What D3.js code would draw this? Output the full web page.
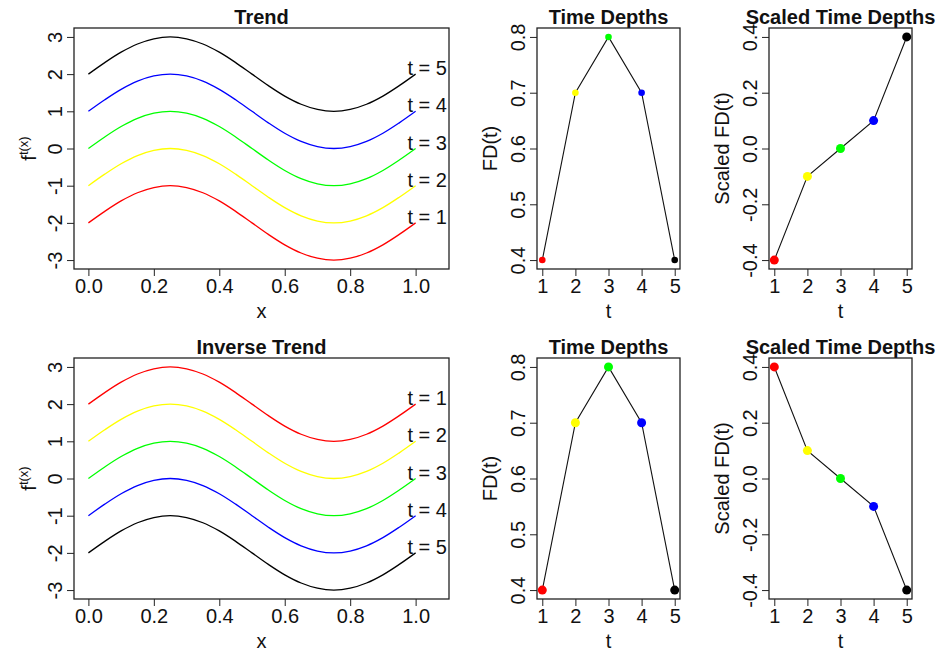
<!DOCTYPE html>
<html>
<head>
<meta charset="utf-8">
<script src="https://cdn.jsdelivr.net/npm/d3@7"></script>
<style>
body { margin: 0; background: #fff; }
text { font-family: "Liberation Sans", Arial, sans-serif; fill: #111; }
</style>
</head>
<body>
<div id="chart-area"></div>
<script>

// sampled curves (x from 0 to 1)
var xGrid = [0, 0.05, 0.1, 0.15, 0.2, 0.25, 0.3, 0.35, 0.4, 0.45, 0.5,
	0.55, 0.6, 0.65, 0.7, 0.75, 0.8, 0.85, 0.9, 0.95, 1];

var curveMinus2 = [-2, -1.69, -1.41, -1.19, -1.05, -1, -1.05, -1.19, -1.41, -1.69, -2,
	-2.31, -2.59, -2.81, -2.95, -3, -2.95, -2.81, -2.59, -2.31, -2];
var curveMinus1 = [-1, -0.69, -0.41, -0.19, -0.05, 0, -0.05, -0.19, -0.41, -0.69, -1,
	-1.31, -1.59, -1.81, -1.95, -2, -1.95, -1.81, -1.59, -1.31, -1];
var curveZero = [0, 0.31, 0.59, 0.81, 0.95, 1, 0.95, 0.81, 0.59, 0.31, 0,
	-0.31, -0.59, -0.81, -0.95, -1, -0.95, -0.81, -0.59, -0.31, 0];
var curvePlus1 = [1, 1.31, 1.59, 1.81, 1.95, 2, 1.95, 1.81, 1.59, 1.31, 1,
	0.69, 0.41, 0.19, 0.05, 0, 0.05, 0.19, 0.41, 0.69, 1];
var curvePlus2 = [2, 2.31, 2.59, 2.81, 2.95, 3, 2.95, 2.81, 2.59, 2.31, 2,
	1.69, 1.41, 1.19, 1.05, 1, 1.05, 1.19, 1.41, 1.69, 2];

var tLabels = ["t = 1", "t = 2", "t = 3", "t = 4", "t = 5"];
var tValues = [1, 2, 3, 4, 5];
var tColors = ["#ff0000", "#ffff00", "#00ff00", "#0000ff", "#000000"];

var trendSeries = [curveMinus2, curveMinus1, curveZero, curvePlus1, curvePlus2];
var inverseSeries = [curvePlus2, curvePlus1, curveZero, curveMinus1, curveMinus2];

var fdTrend = [0.4, 0.7, 0.8, 0.7, 0.4];
var scaledTrend = [-0.4, -0.1, 0.0, 0.1, 0.4];
var fdInverse = [0.4, 0.7, 0.8, 0.7, 0.4];
var scaledInverse = [0.4, 0.1, 0.0, -0.1, -0.4];

var xTicks = [0, 0.2, 0.4, 0.6, 0.8, 1];
var curveYTicks = [-3, -2, -1, 0, 1, 2, 3];
var fdTicks = [0.4, 0.5, 0.6, 0.7, 0.8];
var scaledTicks = [-0.4, -0.2, 0.0, 0.2, 0.4];

var width = 940,
	height = 654;

var svg = d3.select("#chart-area").append("svg")
	.attr("width", width)
	.attr("height", height);

svg.append("rect").attr("width", width).attr("height", height).attr("fill", "#fff");

// R prints a plain hyphen for negatives
function rFormat(spec) {
	var f = d3.format(spec);
	return function(d) { return f(d).replace("\u2212", "-"); };
}

var rowTop = [28, 358];
var boxHeight = 241;
var curveBox = {left: 74, right: 449};
var fdBox = {left: 537, right: 680};
var scaledBox = {left: 769, right: 912};

drawCurves(rowTop[0], trendSeries, "Trend");
drawCurves(rowTop[1], inverseSeries, "Inverse Trend");
drawDepths(fdBox, rowTop[0], fdTrend, [0.384, 0.816], fdTicks, "FD(t)", "Time Depths", 3.3);
drawDepths(scaledBox, rowTop[0], scaledTrend, [-0.432, 0.432], scaledTicks, "Scaled FD(t)", "Scaled Time Depths", 4.5);
drawDepths(fdBox, rowTop[1], fdInverse, [0.384, 0.816], fdTicks, "FD(t)", "Time Depths", 4.5);
drawDepths(scaledBox, rowTop[1], scaledInverse, [-0.432, 0.432], scaledTicks, "Scaled FD(t)", "Scaled Time Depths", 4.5);

function frame(box, top, title, xTitle) {
	var g = svg.append("g");
	var bottom = top + boxHeight;
	// title
	g.append("text")
		.attr("x", (box.left + box.right) / 2)
		.attr("y", top - 4)
		.attr("text-anchor", "middle")
		.attr("font-size", 20)
		.attr("font-weight", "bold")
		.text(title);
	// x title
	g.append("text")
		.attr("x", (box.left + box.right) / 2)
		.attr("y", bottom + 49)
		.attr("text-anchor", "middle")
		.attr("font-size", 20)
		.text(xTitle);
	return g;
}

function addAxes(g, box, top, x, y, xt, yt, xFmt, yFmt) {
	var bottom = top + boxHeight;

	var xAxis = d3.axisBottom(x).tickValues(xt).tickSize(7).tickPadding(2.5).tickFormat(xFmt);
	var gx = g.append("g")
		.attr("transform", "translate(0," + bottom + ")")
		.call(xAxis);
	gx.select(".domain").remove();
	gx.selectAll(".tick line").attr("stroke", "#222");
	gx.selectAll(".tick text")
		.attr("font-size", 20)
		.attr("font-family", null)
		.attr("fill", "#111");

	var yAxis = d3.axisLeft(y).tickValues(yt).tickSize(7).tickFormat(yFmt);
	var gy = g.append("g")
		.attr("transform", "translate(" + box.left + ",0)")
		.call(yAxis);
	gy.select(".domain").remove();
	gy.selectAll(".tick line").attr("stroke", "#222");
	gy.selectAll(".tick text")
		.attr("font-size", 20)
		.attr("font-family", null)
		.attr("fill", "#111")
		.attr("transform", "rotate(-90)")
		.attr("x", 0)
		.attr("y", -12)
		.attr("dy", null)
		.attr("text-anchor", "middle");

	g.append("rect")
		.attr("x", box.left)
		.attr("y", top)
		.attr("width", box.right - box.left)
		.attr("height", boxHeight)
		.attr("fill", "none")
		.attr("stroke", "#222")
		.attr("stroke-width", 1.3);
}

function drawCurves(top, series, title) {
	var box = curveBox;
	var bottom = top + boxHeight;
	var g = frame(box, top, title, "x");

	var x = d3.scaleLinear().domain([-0.044, 1.102]).range([box.left, box.right]);
	var y = d3.scaleLinear().domain([-3.24, 3.24]).range([bottom, top]);

	addAxes(g, box, top, x, y, xTicks, curveYTicks, rFormat(".1f"), rFormat("d"));

	// y title f^t(x)
	var yt = g.append("text")
		.attr("transform", "translate(" + (box.left - 38) + "," + ((top + bottom) / 2) + ") rotate(-90)")
		.attr("text-anchor", "middle");
	yt.append("tspan").attr("font-size", 20).text("f");
	yt.append("tspan").attr("font-size", 13).attr("dy", -8).text("t(x)");

	var line = d3.line()
		.x(function(d, i) { return x(xGrid[i]); })
		.y(function(d) { return y(d); })
		.curve(d3.curveCatmullRom);

	series.forEach(function(vals, k) {
		g.append("path")
			.datum(vals)
			.attr("fill", "none")
			.attr("stroke", tColors[k])
			.attr("stroke-width", 1.3)
			.attr("d", line);
		g.append("text")
			.attr("x", x(0.975))
			.attr("y", y(vals[vals.length - 1]) + 1)
			.attr("font-size", 20)
			.text(tLabels[k]);
	});
}

function drawDepths(box, top, values, yDomain, ticks, yTitle, title, r) {
	var bottom = top + boxHeight;
	var g = frame(box, top, title, "t");

	var x = d3.scaleLinear().domain([0.84, 5.16]).range([box.left, box.right]);
	var y = d3.scaleLinear().domain(yDomain).range([bottom, top]);

	addAxes(g, box, top, x, y, tValues, ticks, rFormat("d"), rFormat(".1f"));

	g.append("text")
		.attr("transform", "translate(" + (box.left - 40) + "," + ((top + bottom) / 2) + ") rotate(-90)")
		.attr("text-anchor", "middle")
		.attr("font-size", 20)
		.text(yTitle);

	var line = d3.line()
		.x(function(d, i) { return x(tValues[i]); })
		.y(function(d) { return y(d); });

	g.append("path")
		.datum(values)
		.attr("fill", "none")
		.attr("stroke", "#111")
		.attr("stroke-width", 1.1)
		.attr("d", line);

	g.selectAll("circle.pt")
		.data(values)
		.enter()
		.append("circle")
		.attr("class", "pt")
		.attr("cx", function(d, i) { return x(tValues[i]); })
		.attr("cy", function(d) { return y(d); })
		.attr("r", r)
		.attr("fill", function(d, i) { return tColors[i]; });
}

</script>
</body>
</html>
